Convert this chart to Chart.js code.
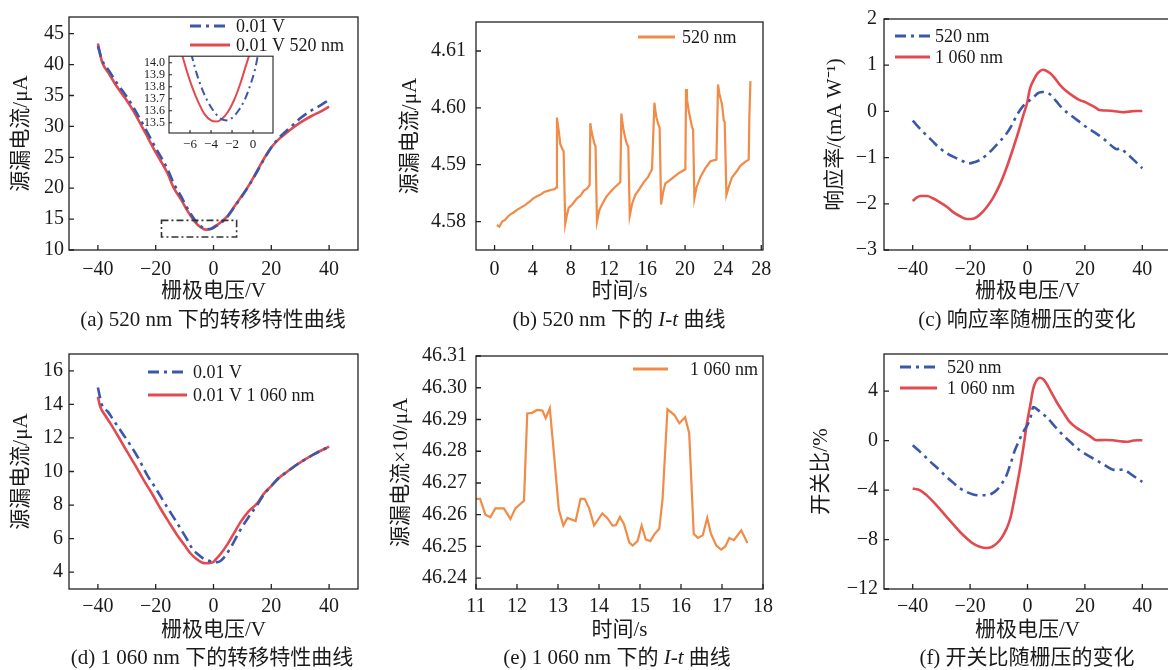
<!DOCTYPE html>
<html><head><meta charset="utf-8">
<script src="https://cdn.jsdelivr.net/npm/chart.js@4.4.1/dist/chart.umd.min.js"></script>
<style>
html,body{margin:0;padding:0;background:#fff;overflow:hidden;width:1168px;height:670px}
#wrap{position:relative;width:1168px;height:670px;overflow:hidden;background:#fff}
canvas{position:absolute}
.cap{position:absolute;font-family:"Liberation Serif","Noto Sans CJK SC",serif;font-size:21px;color:#1a1a1a;white-space:nowrap;transform:translateX(-50%);line-height:22px}
</style></head><body><div id="wrap">
<canvas id="ca" width="380" height="335" style="left:0;top:0"></canvas>
<canvas id="cins" width="160" height="115" style="left:120px;top:45px"></canvas>
<canvas id="cb" width="400" height="335" style="left:380px;top:0"></canvas>
<canvas id="cc" width="400" height="335" style="left:780px;top:0"></canvas>
<canvas id="cd" width="380" height="335" style="left:0;top:335px"></canvas>
<canvas id="ce" width="400" height="335" style="left:380px;top:335px"></canvas>
<canvas id="cf" width="400" height="335" style="left:780px;top:335px"></canvas>
<div class="cap" style="left:213px;top:308px">(a) 520 nm 下的转移特性曲线</div>
<div class="cap" style="left:619px;top:308px">(b) 520 nm 下的 <i>I</i>-<i>t</i> 曲线</div>
<div class="cap" style="left:1027px;top:308px">(c) 响应率随栅压的变化</div>
<div class="cap" style="left:212px;top:646px">(d) 1 060 nm 下的转移特性曲线</div>
<div class="cap" style="left:617px;top:646px">(e) 1 060 nm 下的 <i>I</i>-<i>t</i> 曲线</div>
<div class="cap" style="left:1027px;top:646px">(f) 开关比随栅压的变化</div>
</div>
<script>
const FONT = '"Liberation Serif","Noto Sans CJK SC",serif';
const BLUE = '#3a58a8', RED = '#e24a50', ORANGE = '#f08b48';
const DASHDOT = [11, 5, 3, 5];

// ---- (a) transfer curves, 520 nm ----
const aGate = [-40,-38.6,-36,-33.4,-30,-27.6,-24,-20,-16,-13.8,-11,-9.1,-6.5,-4.5,-2.8,-1,0,2,4.5,7,9.4,12,15.1,17.5,20,23,26.7,30,33.6,37,40];
const aDark = [43.0,40.8,38.9,37.0,34.8,33.0,30.0,26.5,23.2,20.8,18.5,16.8,14.9,13.9,13.4,13.4,13.6,14.2,15.2,16.8,18.4,20.2,22.7,24.7,26.6,28.3,29.9,31.3,32.5,33.4,34.3];
const aLight = [43.4,40.5,38.4,36.4,34.2,32.4,29.3,25.8,22.5,20.1,18.0,16.4,14.6,13.7,13.3,13.4,13.7,14.3,15.3,16.9,18.5,20.3,22.8,24.8,26.6,28.1,29.5,30.6,31.6,32.4,33.2];
const aXTicks = [-40,-20,0,20,40];
const aYTicks = [10,15,20,25,30,35,40,45];
const aZoomBox = [-18, 8, 12.1, 14.8];
// inset
const insLightX = [-6.8,-6.3,-5.8,-5.2,-4.6,-4.0,-3.5,-3.0,-2.4,-1.8,-1.2,-0.7,-0.3];
const insLightY = [14.08,13.93,13.80,13.67,13.57,13.52,13.51,13.53,13.59,13.69,13.83,13.97,14.08];
const insDarkX = [-5.9,-5.4,-4.8,-4.2,-3.6,-3.0,-2.5,-2.0,-1.4,-0.8,-0.2,0.2,0.5];
const insDarkY = [14.08,13.92,13.77,13.66,13.58,13.53,13.52,13.54,13.60,13.69,13.83,13.95,14.08];
const insXTicks = [-6,-4,-2,0];
const insYTicks = [13.5,13.6,13.7,13.8,13.9,14.0];

// ---- (b) I-t at 520 nm ----
const bTime = [0.25,0.5,0.8,1.1,1.4,1.7,2.0,2.4,2.8,3.2,3.6,4.0,4.4,4.8,5.2,5.6,6.0,6.3,6.48,
  6.55,6.65,6.75,6.9,7.1,7.25,7.42,7.6,7.78,8.2,8.65,9.0,9.35,9.7,9.98,
  10.05,10.15,10.3,10.47,10.6,10.75,11.0,11.28,11.7,12.15,12.6,13.2,
  13.31,13.4,13.55,13.75,13.9,14.04,14.19,14.45,14.78,15.2,15.65,16.1,16.53,
  16.78,16.88,16.99,17.23,17.33,17.48,17.7,17.93,18.35,18.8,19.4,20.03,
  20.1,20.2,20.38,20.73,20.84,20.98,21.2,21.6,22.1,22.66,23.29,
  23.46,23.6,23.88,24.06,24.16,24.34,24.6,24.93,25.4,25.8,26.3,26.68,26.75,26.86];
const bCurrent = [4.5794,4.5791,4.5800,4.5803,4.5809,4.5813,4.5816,4.5821,4.5825,4.5829,4.5834,4.5840,4.5844,4.5847,4.5852,4.5854,4.5856,4.5857,4.5860,
  4.5983,4.5970,4.5958,4.5936,4.5928,4.5924,4.5796,4.5812,4.5824,4.5831,4.5841,4.5845,4.5854,4.5858,4.5864,
  4.5973,4.5962,4.5949,4.5938,4.5932,4.5800,4.5820,4.5830,4.5843,4.5852,4.5860,4.5869,
  4.5990,4.5977,4.5960,4.5945,4.5936,4.5932,4.5810,4.5832,4.5847,4.5857,4.5869,4.5878,4.5892,
  4.6009,4.5995,4.5983,4.5969,4.5965,4.5830,4.5852,4.5867,4.5872,4.5878,4.5886,4.5892,
  4.6033,4.6015,4.5995,4.5966,4.5962,4.5841,4.5860,4.5878,4.5893,4.5906,4.5909,
  4.6041,4.6025,4.6006,4.5978,4.5975,4.5847,4.5862,4.5878,4.5888,4.5898,4.5905,4.5909,4.5985,4.6047];
const bXTicks = [0,4,8,12,16,20,24,28];
const bYTicks = [4.58,4.59,4.60,4.61];

// ---- (c) responsivity ----
const c520Gate = [-40,-36.3,-33,-30.5,-27.5,-24.8,-22.5,-20.7,-18.5,-16.6,-14,-11.9,-9.5,-7.3,-5.5,-3.8,-1.5,0,2,3.8,5.4,7.8,10,12.4,15,18.2,21,24,27,29.8,31,32.5,34,37,40];
const c520 = [-0.2,-0.45,-0.65,-0.8,-0.93,-1.01,-1.08,-1.13,-1.1,-1.05,-0.93,-0.8,-0.64,-0.48,-0.3,-0.09,0.12,0.2,0.3,0.4,0.42,0.37,0.22,0.05,-0.08,-0.23,-0.36,-0.48,-0.62,-0.77,-0.82,-0.80,-0.88,-1.05,-1.23];
const c1060Gate = [-40,-38.5,-37.4,-35.1,-33,-30.5,-28,-25.9,-23.5,-21.2,-19.5,-17.7,-16,-14.3,-12,-9.6,-7.3,-5,-3.2,-1.5,0,0.8,2,3.1,4.3,5.4,6.5,7.8,9.5,11.2,13.5,15.9,18,20.5,22,24,25,27,29.8,33.3,36,38,40];
const c1060 = [-1.94,-1.86,-1.83,-1.83,-1.88,-1.97,-2.07,-2.18,-2.27,-2.33,-2.33,-2.29,-2.2,-2.08,-1.87,-1.58,-1.22,-0.8,-0.45,-0.09,0.22,0.48,0.66,0.79,0.87,0.9,0.88,0.83,0.72,0.58,0.44,0.33,0.25,0.19,0.14,0.07,0.03,0.02,0.01,-0.02,0.0,0.01,0.01];
const cXTicks = [-40,-20,0,20,40];
const cYTicks = [-3,-2,-1,0,1,2];

// ---- (d) transfer curves, 1060 nm ----
const dLightGate = [-40,-39.2,-37.5,-35.7,-33,-29.9,-27,-24.2,-21,-18.4,-15.5,-12.6,-10,-8,-6,-4,-2.5,-1.7,0,0.6,2.5,4.7,7,9.4,12,15.1,17.5,19.8,22.5,25.5,28.5,31.3,35,40];
const dLight = [14.45,13.86,13.35,12.87,12.1,11.18,10.35,9.5,8.6,7.81,7.0,6.22,5.6,5.13,4.8,4.58,4.53,4.54,4.62,4.73,5.1,5.63,6.3,7.0,7.6,8.1,8.7,9.1,9.6,9.99,10.37,10.68,11.05,11.48];
const dDarkGate = [-40,-39.5,-38.6,-36.5,-34.6,-32,-28.8,-26,-23,-20,-17.2,-14.3,-11.4,-9.3,-7.4,-5.3,-3.3,-1.5,0.1,1.3,2.4,4,5.8,7.5,9.3,12,15.1,17.5,19.8,22.5,25.5,28.5,31.3,35,40];
const dDark = [15.0,14.6,13.96,13.55,13.06,12.4,11.58,10.8,9.8,9.0,8.2,7.4,6.6,6.0,5.42,5.05,4.79,4.68,4.6,4.6,4.67,4.95,5.43,5.95,6.52,7.25,8.0,8.65,9.1,9.6,9.99,10.37,10.68,11.05,11.48];
const dXTicks = [-40,-20,0,20,40];
const dYTicks = [4,6,8,10,12,14,16];

// ---- (e) I-t at 1060 nm ----
const eTime = [11.0,11.1,11.23,11.35,11.47,11.68,11.84,11.96,12.17,12.25,12.37,12.49,12.62,12.7,12.8,12.9,13.02,13.13,13.23,13.43,13.55,13.65,13.76,13.88,14.08,14.2,14.33,14.41,14.51,14.61,14.74,14.82,14.94,15.04,15.14,15.25,15.35,15.47,15.55,15.67,15.84,15.96,16.1,16.2,16.31,16.41,16.53,16.64,16.73,16.86,16.98,17.08,17.18,17.29,17.47,17.62];
const eCurrent = [46.265,46.265,46.260,46.2592,46.262,46.262,46.2587,46.262,46.2644,46.2919,46.2921,46.293,46.2928,46.2904,46.2935,46.2794,46.2616,46.2566,46.259,46.258,46.265,46.265,46.262,46.2566,46.2604,46.259,46.2566,46.2567,46.2593,46.257,46.2512,46.2503,46.2517,46.2566,46.2522,46.2517,46.2538,46.2556,46.2648,46.2932,46.2914,46.2888,46.2907,46.2857,46.254,46.2527,46.2535,46.259,46.254,46.2503,46.249,46.25,46.2527,46.252,46.2551,46.2511];
const eXTicks = [11,12,13,14,15,16,17,18];
const eYTicks = [46.24,46.25,46.26,46.27,46.28,46.29,46.30,46.31];

// ---- (f) on/off ratio ----
const f520Gate = [-40,-37,-34,-31,-28.2,-25.8,-23.5,-21.2,-18.9,-16.6,-14.3,-12.5,-10.8,-9,-7.3,-5.8,-4.4,-3.2,-2.1,-1,0.2,1.2,2,3.7,5,6.6,9.5,12.4,15.3,18.2,21,24,27,29.8,31.5,33.3,36.5,40];
const f520 = [-0.38,-1.0,-1.67,-2.3,-2.94,-3.42,-3.87,-4.15,-4.36,-4.42,-4.42,-4.3,-4.02,-3.5,-2.8,-1.8,-0.78,-0.15,0.43,0.9,1.37,2.0,2.72,2.46,2.2,1.91,1.15,0.43,-0.2,-0.78,-1.2,-1.59,-2.0,-2.35,-2.38,-2.35,-2.8,-3.34];
const f1060Gate = [-40,-37.4,-35,-32.8,-30.5,-28.2,-25.8,-23.5,-21.2,-18.9,-16.6,-14.3,-12.5,-10.8,-9,-7.3,-6,-5,-3.8,-2.6,-1.4,-0.3,1,2,3,4.3,5.4,6.6,8.3,10.1,12.4,14.7,17,19.4,21.5,24,27,29.8,32,34.4,37,40];
const f1060 = [-3.88,-4.02,-4.45,-4.96,-5.55,-6.17,-6.8,-7.39,-7.9,-8.33,-8.58,-8.68,-8.6,-8.33,-7.85,-7.12,-6.3,-5.23,-3.8,-2.26,-0.5,1.24,2.9,4.2,4.8,5.08,4.98,4.62,3.9,3.14,2.3,1.51,1.05,0.70,0.4,0.03,0.05,0.03,-0.05,-0.1,0.0,0.03];
const fXTicks = [-40,-20,0,20,40];
const fYTicks = [-12,-8,-4,0,4];

function pts(xs, ys) { return xs.map((x, i) => ({x: x, y: ys[i]})); }
function fmt(v, d) { return Number(v).toFixed(d).replace('-', '\u2212'); }

const framePlugin = {
  id: 'frame',
  beforeDatasetsDraw(chart, args, o) {
    if (o && o.fill) {
      const ca = chart.chartArea, ctx = chart.ctx;
      ctx.save(); ctx.fillStyle = o.fill;
      ctx.fillRect(ca.left, ca.top, ca.right - ca.left, ca.bottom - ca.top);
      ctx.restore();
    }
  },
  afterDatasetsDraw(chart, args, o) {
    if (!o || !o.on) return;
    const ctx = chart.ctx, ca = chart.chartArea, sx = chart.scales.x, sy = chart.scales.y;
    ctx.save();
    ctx.strokeStyle = '#222'; ctx.lineWidth = o.lw || 1.3; ctx.setLineDash([]);
    ctx.strokeRect(ca.left, ca.top, ca.right - ca.left, ca.bottom - ca.top);
    const tl = o.tick || 5;
    ctx.beginPath();
    sx.ticks.forEach(t => { const p = sx.getPixelForValue(t.value); ctx.moveTo(p, ca.bottom); ctx.lineTo(p, ca.bottom - tl); });
    sy.ticks.forEach(t => { const p = sy.getPixelForValue(t.value); ctx.moveTo(ca.left, p); ctx.lineTo(ca.left + tl, p); });
    ctx.stroke();
    if (o.box) {
      const b = o.box;
      const x0 = sx.getPixelForValue(b[0]), x1 = sx.getPixelForValue(b[1]);
      const y0 = sy.getPixelForValue(b[2]), y1 = sy.getPixelForValue(b[3]);
      ctx.setLineDash([7, 3, 2, 3]); ctx.lineWidth = 1.6; ctx.strokeStyle = '#333';
      ctx.strokeRect(x0, y1, x1 - x0, y0 - y1);
    }
    if (o.legend) {
      const L = o.legend;
      ctx.font = '18px ' + FONT; ctx.fillStyle = '#1a1a1a'; ctx.textBaseline = 'middle'; ctx.textAlign = 'left';
      L.labels.forEach((lab, i) => {
        const ds = chart.data.datasets[i];
        const y = ca.top + L.y + i * L.gap, x = ca.left + L.x;
        ctx.save();
        ctx.strokeStyle = ds.borderColor; ctx.lineWidth = 3; ctx.setLineDash(ds.borderDash || []);
        ctx.beginPath(); ctx.moveTo(x, y); ctx.lineTo(x + L.len, y); ctx.stroke();
        ctx.restore();
        ctx.fillText(lab, x + L.len + L.tg, y + 1);
      });
    }
    ctx.restore();
  }
};
Chart.register(framePlugin);

function ds(data, color, dash, w) {
  return {data: data, borderColor: color, borderWidth: w || 2.6, borderDash: dash || [], pointRadius: 0,
    fill: false, cubicInterpolationMode: dash === null ? 'default' : 'monotone', tension: 0};
}
function ds2(data, color) {
  return {data: data, borderColor: color, borderWidth: 2.2, pointRadius: 0, fill: false, tension: 0};
}
function axis(a, horiz) {
  return {
    type: 'linear', position: horiz ? 'bottom' : 'left', min: a.min, max: a.max,
    afterBuildTicks: s => { s.ticks = a.ticks.map(v => ({value: v})); },
    afterFit: s => { if (horiz) s.height = a.size; else s.width = a.size; },
    grid: {display: false, drawTicks: false},
    border: {display: false},
    ticks: {autoSkip: false, maxRotation: 0, minRotation: 0, padding: a.pad, color: '#1a1a1a',
      font: {family: FONT, size: a.fs || 20}, callback: v => fmt(v, a.dec || 0)},
    title: a.title ? {display: true, text: a.title, color: '#1a1a1a',
      font: {family: FONT, size: 21, lineHeight: 1.2},
      padding: horiz ? {top: 0, bottom: 0} : {top: a.tpad, bottom: 0}} : {display: false}
  };
}
function make(id, datasets, pad, xa, ya, frame) {
  return new Chart(document.getElementById(id), {
    type: 'line',
    data: {datasets: datasets},
    options: {
      responsive: false, animation: false, events: [], devicePixelRatio: 1,
      layout: {padding: pad},
      plugins: {legend: {display: false}, tooltip: {enabled: false}, frame: frame},
      scales: {x: axis(xa, true), y: axis(ya, false)}
    }
  });
}
const XT = '栅极电压/V', YI = '源漏电流/μA';

make('ca',
  [ds(pts(aGate, aDark), BLUE, DASHDOT), ds(pts(aGate, aLight), RED)],
  {left: 0, right: 22, top: 15, bottom: 31},
  {min: -50, max: 50, ticks: aXTicks, size: 54, pad: 8, title: XT},
  {min: 10, max: 47.7, ticks: aYTicks, size: 69, pad: 5, title: YI, tpad: 9},
  {on: true, box: aZoomBox, legend: {labels: ['0.01 V', '0.01 V 520 nm'], x: 121, y: 9, gap: 19, len: 40, tg: 6}});

make('cins',
  [ds(pts(insDarkX, insDarkY), BLUE, [8, 4, 2, 4], 2), ds(pts(insLightX, insLightY), RED, [], 2)],
  {left: 0, right: 7, top: 10, bottom: 7},
  {min: -8, max: 1.9, ticks: insXTicks, size: 20, pad: 4, fs: 13},
  {min: 13.415, max: 14.055, ticks: insYTicks, size: 49, pad: 4, fs: 12, dec: 1},
  {on: true, fill: '#fff', tick: 3, lw: 1.1});

make('cb',
  [ds2(pts(bTime, bCurrent), ORANGE)],
  {left: 0, right: 17, top: 15, bottom: 31},
  {min: -1.95, max: 28.18, ticks: bXTicks, size: 54, pad: 8, title: '时间/s'},
  {min: 4.575, max: 4.6151, ticks: bYTicks, size: 96, pad: 10, dec: 2, title: YI, tpad: 18},
  {on: true, legend: {labels: ['520 nm'], x: 162, y: 15, gap: 20, len: 37, tg: 7}});

make('cc',
  [ds(pts(c520Gate, c520), BLUE, DASHDOT), ds(pts(c1060Gate, c1060), RED)],
  {left: 0, right: 9, top: 15, bottom: 31},
  {min: -50, max: 50, ticks: cXTicks, size: 54, pad: 8, title: XT},
  {min: -3, max: 2, ticks: cYTicks, size: 104, pad: 7, title: '响应率/(mA W⁻¹)', tpad: 43},
  {on: true, legend: {labels: ['520 nm', '1 060 nm'], x: 11, y: 17, gap: 21, len: 35, tg: 5}});

make('cd',
  [ds(pts(dDarkGate, dDark), BLUE, DASHDOT), ds(pts(dLightGate, dLight), RED)],
  {left: 0, right: 22, top: 19, bottom: 27},
  {min: -50, max: 50, ticks: dXTicks, size: 54, pad: 6, title: XT},
  {min: 3, max: 17, ticks: dYTicks, size: 69, pad: 6, title: YI, tpad: 9},
  {on: true, legend: {labels: ['0.01 V', '0.01 V 1 060 nm'], x: 79, y: 18, gap: 23, len: 39, tg: 6}});

make('ce',
  [ds2(pts(eTime, eCurrent), ORANGE)],
  {left: 0, right: 17, top: 19, bottom: 27},
  {min: 11, max: 18, ticks: eXTicks, size: 54, pad: 6, title: '时间/s'},
  {min: 46.2366, max: 46.31, ticks: eYTicks, size: 96, pad: 9, dec: 2, title: '源漏电流×10/μA', tpad: 9},
  {on: true, legend: {labels: ['1 060 nm'], x: 157, y: 13, gap: 20, len: 35, tg: 22}});

make('cf',
  [ds(pts(f520Gate, f520), BLUE, DASHDOT), ds(pts(f1060Gate, f1060), RED)],
  {left: 0, right: 9, top: 19, bottom: 27},
  {min: -50, max: 50, ticks: fXTicks, size: 54, pad: 6, title: XT},
  {min: -12, max: 7, ticks: fYTicks, size: 104, pad: 6, title: '开关比/%', tpad: 29},
  {on: true, legend: {labels: ['520 nm', '1 060 nm'], x: 16, y: 13, gap: 21, len: 37, tg: 10}});
</script>
</body></html>
